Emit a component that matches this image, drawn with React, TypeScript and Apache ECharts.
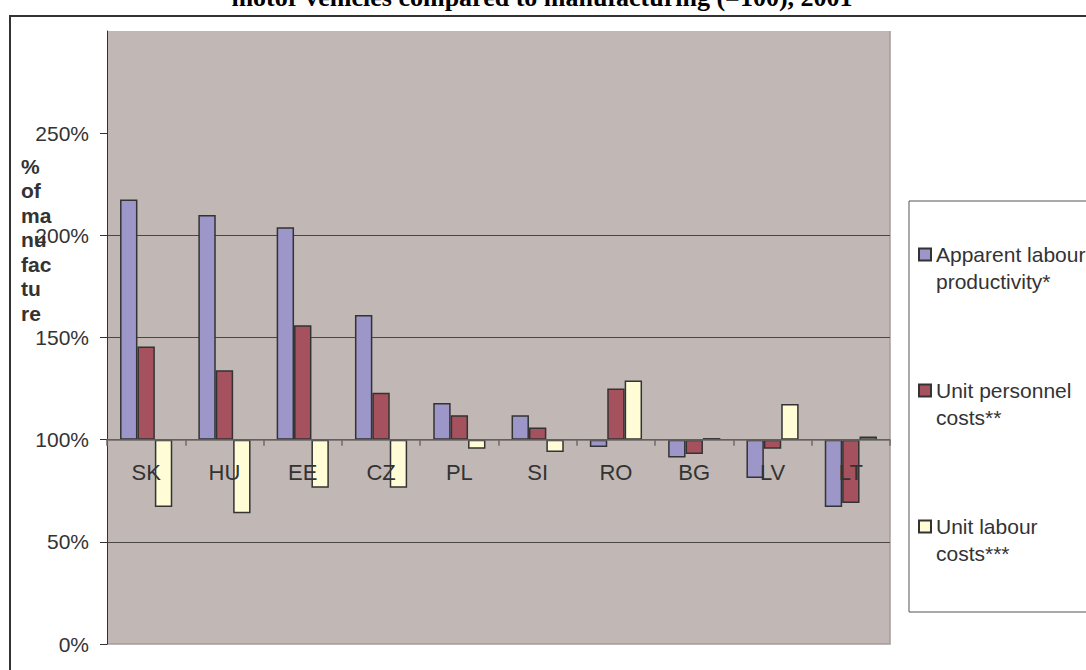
import React, { useEffect, useRef } from "react";
import * as echarts from "echarts";

const categories = ["SK", "HU", "EE", "CZ", "PL", "SI", "RO", "BG", "LV", "LT"];
const apparentLabourProductivity = [217.5, 210, 204, 161, 118, 112, 96.4, 91.3, 81.3, 67];
const unitPersonnelCosts = [145.6, 134, 156, 123, 112, 106, 125, 93, 95.6, 69];
const unitLabourCosts = [67, 64, 76.5, 76.5, 95.6, 94, 129, 100.8, 117.5, 101.5];
const seriesNames = [
  "Apparent labour\nproductivity*",
  "Unit personnel\ncosts**",
  "Unit labour\ncosts***",
];
const yTickValues = [0, 50, 100, 150, 200, 250];
const titleText = "motor vehicles compared to manufacturing (=100), 2001";
const yAxisTitle = "%\nof\nma\nnu\nfac\ntu\nre";

const BASE = 100;
const colors = ["#9c96c9", "#a6515e", "#fffcd6"];
const SANS = '"Liberation Sans", Arial, sans-serif';

export default function App() {
  const ref = useRef<HTMLDivElement>(null);
  useEffect(() => {
    if (!ref.current) return;
    const chart = echarts.init(ref.current, null, { renderer: "svg" });
    const seriesData = [apparentLabourProductivity, unitPersonnelCosts, unitLabourCosts];
    const option: any = {
      animation: false,
      backgroundColor: "#ffffff",
      grid: {
        left: 107,
        right: 196,
        top: 31,
        bottom: 26,
        show: true,
        backgroundColor: "#c1b8b5",
        borderWidth: 0,
        containLabel: false,
        outerBoundsMode: "none",
      },
      legend: {
        orient: "vertical",
        left: 909,
        top: 201,
        padding: [13, 40, 45, 9],
        itemGap: 55,
        itemWidth: 12,
        itemHeight: 12,
        icon: "rect",
        selectedMode: false,
        backgroundColor: "#ffffff",
        borderColor: "#555555",
        borderWidth: 1,
        data: seriesNames,
        formatter: (name: string) => "\n" + name,
        textStyle: {
          fontFamily: SANS,
          fontSize: 21,
          lineHeight: 27,
          color: "#333333",
        },
      },
      xAxis: [
        {
          type: "category",
          data: categories,
          z: 10,
          axisLine: { onZero: true, lineStyle: { color: "#6e6868", width: 1.5 } },
          axisTick: { show: true, alignWithLabel: false, length: 6, lineStyle: { color: "#6e6868", width: 1.5 } },
          axisLabel: { show: false },
          splitLine: { show: false },
        },
        {
          type: "category",
          data: categories,
          position: "bottom",
          offset: -183,
          z: 10,
          axisLine: { show: false, onZero: false },
          axisTick: { show: false },
          axisLabel: { margin: 0, fontFamily: SANS, fontSize: 22, color: "#333333" },
          splitLine: { show: false },
        },
      ],
      yAxis: {
        type: "value",
        min: -100,
        max: 200,
        interval: 50,
        axisLine: { show: true, lineStyle: { color: "#333333", width: 1 } },
        axisTick: {
          show: true,
          length: 7,
          lineStyle: { color: "#333333" },
          customValues: yTickValues.map((v) => v - BASE),
        },
        axisLabel: {
          margin: 18,
          fontFamily: SANS,
          fontSize: 21,
          color: "#333333",
          customValues: yTickValues.map((v) => v - BASE),
          formatter: (v: number) => `${Math.round(v + BASE)}%`,
        },
        splitLine: {
          show: true,
          showMinLine: false,
          showMaxLine: false,
          lineStyle: { color: "#4a4646", width: 1 },
        },
      },
      graphic: [
        {
          type: "rect",
          shape: { x: 10, y: 16, width: 1200, height: 800 },
          style: { fill: "none", stroke: "#333333", lineWidth: 2 },
          silent: true,
        },
        {
          type: "text",
          x: 542,
          y: -3,
          style: {
            text: titleText,
            font: 'bold 26px "Liberation Serif", "Times New Roman", serif',
            fill: "#000000",
            align: "center",
            verticalAlign: "middle",
          },
        },
        {
          type: "text",
          x: 21,
          y: 154,
          style: {
            text: yAxisTitle,
            font: 'bold 21px "Liberation Sans", Arial, sans-serif',
            lineHeight: 24.5,
            fill: "#333333",
            align: "left",
            verticalAlign: "top",
          },
        },
        {
          type: "polyline",
          shape: { points: [[890, 31], [890, 644], [107, 644]] },
          style: { stroke: "#a49c99", lineWidth: 1.5, fill: "none" },
          silent: true,
        },
      ],
      series: seriesNames.map((name, i) => ({
        name,
        type: "bar",
        xAxisIndex: 0,
        barWidth: 17.4,
        barGap: "0%",
        barCategoryGap: "33.3%",
        itemStyle: { color: colors[i], borderColor: "#333333", borderWidth: 1.5 },
        data: seriesData[i].map((v) => +(v - BASE).toFixed(2)),
      })),
    };
    chart.setOption(option);
    return () => chart.dispose();
  }, []);
  return (
    <div
      ref={ref}
      style={{ position: "fixed", left: 0, top: 0, width: 1086, height: 670 }}
    />
  );
}
